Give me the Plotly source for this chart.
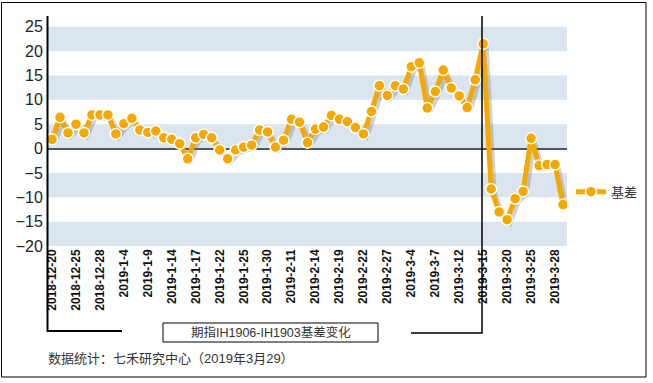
import plotly.graph_objects as go

# ---- data ----
dates = ["2018-12-20","2018-12-21","2018-12-24","2018-12-25","2018-12-26","2018-12-27","2018-12-28",
         "2019-1-2","2019-1-3","2019-1-4","2019-1-7","2019-1-8","2019-1-9","2019-1-10","2019-1-11",
         "2019-1-14","2019-1-15","2019-1-16","2019-1-17","2019-1-18","2019-1-21","2019-1-22","2019-1-23",
         "2019-1-24","2019-1-25","2019-1-28","2019-1-29","2019-1-30","2019-1-31","2019-2-1","2019-2-11",
         "2019-2-12","2019-2-13","2019-2-14","2019-2-15","2019-2-18","2019-2-19","2019-2-20","2019-2-21",
         "2019-2-22","2019-2-25","2019-2-26","2019-2-27","2019-2-28","2019-3-1","2019-3-4","2019-3-5",
         "2019-3-6","2019-3-7","2019-3-8","2019-3-11","2019-3-12","2019-3-13","2019-3-14","2019-3-15",
         "2019-3-18","2019-3-19","2019-3-20","2019-3-21","2019-3-22","2019-3-25","2019-3-26","2019-3-27",
         "2019-3-28","2019-3-29"]
basis = [1.9, 6.4, 3.2, 5.0, 3.2, 6.9, 6.9, 6.9, 3.0, 5.1, 6.2, 3.8, 3.3, 3.6, 2.2,
         1.9, 1.0, -2.1, 2.2, 2.9, 2.2, -0.3, -2.1, -0.3, 0.3, 0.7, 3.8, 3.4, 0.3, 1.7, 6.0,
         5.4, 1.2, 4.0, 4.4, 6.8, 6.0, 5.5, 4.3, 3.0, 7.6, 12.9, 10.9, 12.9, 12.2, 16.8, 17.6,
         8.3, 11.7, 16.1, 12.4, 10.8, 8.4, 14.1, 21.5, -8.3, -13.0, -14.6, -10.3, -8.8, 2.1,
         -3.5, -3.3, -3.3, -11.5]
series_name = "基差"
y_ticks = [-20, -15, -10, -5, 0, 5, 10, 15, 20, 25]
band_starts = [-20, -10, 0, 10, 20]
box_title = "期指IH1906-IH1903基差变化"
footer = "数据统计：七禾研究中心（2019年3月29）"

x_idx = list(range(len(dates)))
tick_idx = x_idx[::3]
tick_txt = [dates[i] for i in tick_idx]

# ---- geometry ----
W, H = 653, 383
L, R, T, B = 48, 567, 16, 246
def px(x):
    return (x - L) / (R - L)
def py(y):
    return (B - y) / (B - T)

YR = [-20, 27.2]
XR = [-0.5, len(dates) - 0.5]
dx = 3 / (R - L) * (XR[1] - XR[0])
dy = 3 / (B - T) * (YR[1] - YR[0])

ORANGE = "#f4a800"
FONT = "Liberation Sans, Arial, Noto Sans CJK SC, sans-serif"

fig = go.Figure()
# shadow (drawn on shifted axes)
fig.add_trace(go.Scatter(x=x_idx, y=basis, mode="lines", xaxis="x", yaxis="y",
                         line=dict(color="rgba(120,120,120,0.35)", width=5),
                         showlegend=False, hoverinfo="skip"))
# main series
fig.add_trace(go.Scatter(x=x_idx, y=basis, mode="lines+markers", name=series_name,
                         xaxis="x2", yaxis="y2",
                         line=dict(color=ORANGE, width=5),
                         marker=dict(size=11, color=ORANGE, line=dict(color="white", width=1.5))))

shapes = []
for s in band_starts:
    shapes.append(dict(type="rect", xref="paper", yref="y2", x0=0, x1=1, y0=s, y1=s + 5,
                       fillcolor="#dae5f0", line=dict(width=0), layer="below"))
# outer frame
shapes.append(dict(type="rect", xref="paper", yref="paper", x0=px(1.5), x1=px(646), y0=py(2.5), y1=py(377),
                   line=dict(color="black", width=1), fillcolor="rgba(0,0,0,0)"))
# left axis bracket
shapes.append(dict(type="path", xref="paper", yref="paper",
                   path=f"M {px(47.5)} {py(16)} L {px(47.5)} {py(331)} L {px(122)} {py(331)}",
                   line=dict(color="black", width=2)))
# right marker bracket
shapes.append(dict(type="path", xref="paper", yref="paper",
                   path=f"M {px(482)} {py(16)} L {px(482)} {py(333)} L {px(411)} {py(333)}",
                   line=dict(color="black", width=1.5)))
# title box
shapes.append(dict(type="rect", xref="paper", yref="paper", x0=px(163), x1=px(378), y0=py(342), y1=py(323),
                   line=dict(color="black", width=1), fillcolor="white"))

annotations = [
    dict(x=px(270.5), y=py(332.5), xref="paper", yref="paper", text=box_title, showarrow=False,
         xanchor="center", yanchor="middle", font=dict(family=FONT, size=12.5, color="#333")),
    dict(x=px(46), y=py(358), xref="paper", yref="paper", text=footer, showarrow=False,
         xanchor="left", yanchor="middle", font=dict(family=FONT, size=13, color="#333")),
]

fig.update_layout(
    width=W, height=H,
    margin=dict(l=L, r=W - R, t=T, b=H - B, autoexpand=False),
    paper_bgcolor="white", plot_bgcolor="white",
    xaxis=dict(range=[XR[0] - dx, XR[1] - dx], visible=False, fixedrange=True),
    yaxis=dict(range=[YR[0] + dy, YR[1] + dy], visible=False, fixedrange=True),
    xaxis2=dict(overlaying="x", anchor="y2", side="bottom", range=XR,
                tickmode="array", tickvals=tick_idx, ticktext=tick_txt, tickangle=-90,
                tickfont=dict(family=FONT, size=12, color="#111", weight="bold"),
                showgrid=False, zeroline=False, showline=False, ticks=""),
    yaxis2=dict(overlaying="y", anchor="x2", side="left", range=YR,
                tickmode="array", tickvals=y_ticks,
                tickfont=dict(family=FONT, size=16, color="#222"),
                showgrid=False, zeroline=True, zerolinecolor="#555", zerolinewidth=2,
                showline=False, ticks="outside", ticklen=1, tickcolor="rgba(0,0,0,0)"),
    shapes=shapes,
    annotations=annotations,
    legend=dict(x=px(571), y=py(191.7), xanchor="left", yanchor="middle",
                font=dict(family=FONT, size=13, color="#333"), bgcolor="rgba(0,0,0,0)"),
    showlegend=True,
)

fig.write_html("out.html", config={"displayModeBar": False},
               post_script="document.body.style.margin='0';document.body.style.overflow='hidden';")
